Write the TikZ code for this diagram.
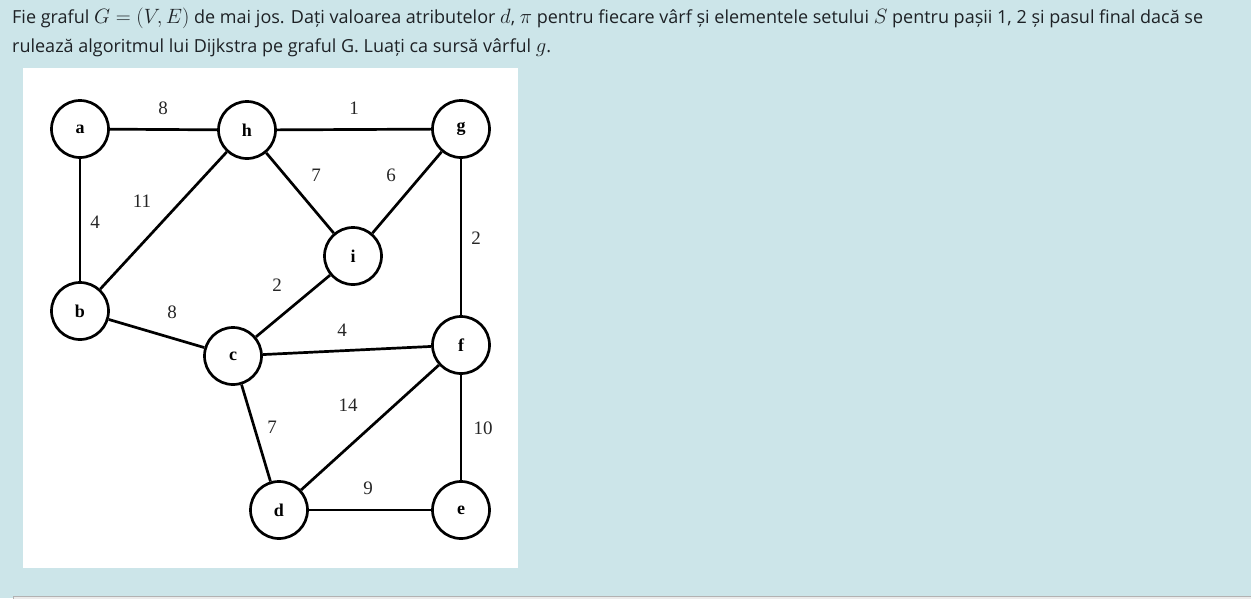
\documentclass[tikz,border=0pt]{standalone}
\usepackage{fontspec}
\setmainfont{Open Sans}
\newfontfamily\tnr{Liberation Serif}
\definecolor{bgc}{HTML}{CCE5E9}
\definecolor{txtc}{HTML}{1D2125}
\newcommand{\mth}[1]{\scalebox{1.2}{$#1$}}
\begin{document}
\begin{tikzpicture}[x=1pt,y=-1pt,
  vtx/.style={circle,draw=black,line width=2.7pt,fill=white,minimum size=57pt,inner sep=0pt,font=\tnr\fontsize{18}{18}\selectfont\bfseries},
  edg/.style={line width=2.7pt,draw=black},
  wlab/.style={font=\tnr\fontsize{19}{19}\selectfont,text=black!85,inner sep=0pt},
  txt/.style={anchor=base west,inner sep=0pt,text=txtc,font=\fontsize{18}{22}\selectfont}]
\useasboundingbox (0,0) rectangle (1251,598);
\fill[bgc] (0,0) rectangle (1251,598);
\fill[white] (23,68) rectangle (518,568);
\filldraw[draw=black!30,fill=black!8,line width=0.8pt] (13.5,596.5) rectangle (1255,602);
% text
\node[txt] (l1) at (12,23) {Fie graful \mth{G = (V, E)} de mai jos. Dați valoarea atributelor \mth{d}, \mth{\pi} pentru fiecare vârf și elementele setului \mth{S} pentru pașii 1, 2 și pasul final dacă se};
\node[txt] (l2) at (12,52) {rulează algoritmul lui Dijkstra pe graful G. Luați ca sursă vârful \mth{g}.};
% vertices
\node[vtx] (a) at (80,129) {a};
\node[vtx] (h) at (247,130) {h};
\node[vtx] (g) at (461,129) {g};
\node[vtx] (i) at (353,256) {i};
\node[vtx] (b) at (80,311) {b};
\node[vtx] (c) at (233,356) {c};
\node[vtx] (f) at (461,345) {f};
\node[vtx] (d) at (279,510) {d};
\node[vtx] (e) at (461,510) {e};
% edges
\draw[edg] (a) -- (h);
\draw[edg] (h) -- (g);
\draw[edg] (a) -- (b);
\draw[edg] (b) -- (h);
\draw[edg] (h) -- (i);
\draw[edg] (i) -- (g);
\draw[edg] (g) -- (f);
\draw[edg] (i) -- (c);
\draw[edg] (b) -- (c);
\draw[edg] (c) -- (f);
\draw[edg] (c) -- (d);
\draw[edg] (d) -- (f);
\draw[edg] (d) -- (e);
\draw[edg] (f) -- (e);
% weights
\node[wlab] (w1) at (163,108) {8};
\node[wlab] (w2) at (354,108) {1};
\node[wlab] (w3) at (95,222) {4};
\node[wlab] (w4) at (142,201) {11};
\node[wlab] (w5) at (316,175) {7};
\node[wlab] (w6) at (391,175) {6};
\node[wlab] (w7) at (476,238) {2};
\node[wlab] (w8) at (277,285) {2};
\node[wlab] (w9) at (172,312) {8};
\node[wlab] (w10) at (342,330) {4};
\node[wlab] (w11) at (348,405) {14};
\node[wlab] (w12) at (272,427) {7};
\node[wlab] (w13) at (483,428) {10};
\node[wlab] (w14) at (368,488) {9};
\end{tikzpicture}
\end{document}
